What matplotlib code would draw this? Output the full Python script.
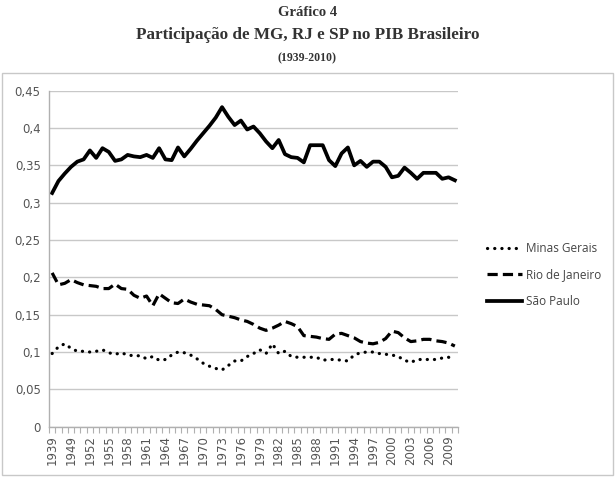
import matplotlib
matplotlib.use("Agg")
import matplotlib.pyplot as plt
from matplotlib.patches import Rectangle
from matplotlib.lines import Line2D

years = [1939, 1947, 1948] + list(range(1949, 2011))

minas_gerais = [0.098, 0.107, 0.111, 0.105, 0.101, 0.101, 0.100, 0.101, 0.103, 0.099,
                0.097, 0.099, 0.096, 0.095, 0.095, 0.091, 0.094, 0.089, 0.090, 0.096,
                0.100, 0.099, 0.096, 0.091, 0.085, 0.081, 0.078, 0.076, 0.082, 0.088,
                0.088, 0.094, 0.098, 0.103, 0.098, 0.111, 0.098, 0.101, 0.094, 0.093,
                0.093, 0.093, 0.093, 0.089, 0.090, 0.090, 0.089, 0.088, 0.096, 0.099,
                0.100, 0.100, 0.098, 0.097, 0.096, 0.094, 0.089, 0.086, 0.090, 0.090,
                0.090, 0.090, 0.092, 0.093, 0.089]

rio_de_janeiro = [0.206, 0.190, 0.192, 0.197, 0.193, 0.190, 0.189, 0.188, 0.185, 0.185,
                  0.191, 0.185, 0.184, 0.176, 0.172, 0.175, 0.162, 0.178, 0.172, 0.166,
                  0.165, 0.171, 0.167, 0.164, 0.163, 0.162, 0.157, 0.150, 0.148, 0.146,
                  0.143, 0.141, 0.137, 0.132, 0.129, 0.132, 0.136, 0.141, 0.138, 0.134,
                  0.122, 0.121, 0.120, 0.118, 0.117, 0.124, 0.125, 0.122, 0.119, 0.114,
                  0.112, 0.111, 0.113, 0.118, 0.128, 0.126, 0.119, 0.114, 0.115, 0.117,
                  0.117, 0.115, 0.114, 0.112, 0.108]

sao_paulo = [0.313, 0.329, 0.339, 0.348, 0.355, 0.358, 0.370, 0.360, 0.373, 0.368,
             0.356, 0.358, 0.364, 0.362, 0.361, 0.364, 0.360, 0.373, 0.358, 0.357,
             0.374, 0.362, 0.372, 0.383, 0.393, 0.403, 0.414, 0.428, 0.415, 0.404,
             0.410, 0.398, 0.402, 0.393, 0.382, 0.373, 0.384, 0.365, 0.361, 0.360,
             0.354, 0.377, 0.377, 0.377, 0.357, 0.349, 0.366, 0.374, 0.350, 0.356,
             0.348, 0.355, 0.355, 0.348, 0.334, 0.336, 0.347, 0.340, 0.332, 0.340,
             0.340, 0.340, 0.332, 0.334, 0.330]

series_names = ["Minas Gerais", "Rio de Janeiro", "São Paulo"]
y_ticks = [0, 0.05, 0.1, 0.15, 0.2, 0.25, 0.3, 0.35, 0.4, 0.45]
y_tick_labels = ["0", "0,05", "0,1", "0,15", "0,2", "0,25", "0,3", "0,35", "0,4", "0,45"]

W, H = 615, 483
fig = plt.figure(figsize=(W / 100, H / 100), dpi=100)
fig.patch.set_facecolor("white")

# outer chart border
fig.add_artist(Rectangle((2 / W, 1 - 475 / H), 611 / W, (475 - 73) / H,
                         transform=fig.transFigure, fill=False,
                         edgecolor="#c8c8c8", linewidth=1.0))

# titles
title_font = dict(family=["Liberation Serif", "DejaVu Serif"], weight="bold",
                  color="#333333", ha="center", va="center")
fig.text(0.5, 1 - 12 / H, "Gráfico 4", fontsize=10.5, **title_font)
fig.text(0.5, 1 - 35 / H, "Participação de MG, RJ e SP no PIB Brasileiro", fontsize=12.3, **title_font)
fig.text(0.5, 1 - 58 / H, "(1939-2010)", fontsize=8.5, **title_font)

left, right, top, bottom = 49, 458, 90.7, 426.7
ax = fig.add_axes([left / W, 1 - bottom / H, (right - left) / W, (bottom - top) / H])

x = list(range(len(years)))
lw = 2.3
ax.plot(x, minas_gerais, color="black", linewidth=lw, linestyle=(0, (0.05, 2.2)),
        dash_capstyle="round", solid_capstyle="round")
ax.plot(x, rio_de_janeiro, color="black", linewidth=lw, linestyle=(0, (3.2, 1.6)),
        dash_capstyle="butt")
ax.plot(x, sao_paulo, color="black", linewidth=lw + 0.4, solid_joinstyle="round")

ax.set_xlim(-0.5, len(years) - 0.5)
ax.set_ylim(0, 0.45)
ax.set_yticks(y_ticks)
ax.set_yticklabels(y_tick_labels)
ax.yaxis.grid(True, color="#c8c8c8", linewidth=1.0)
ax.set_axisbelow(True)

label_idx = list(range(0, len(years), 3))
ax.set_xticks(label_idx)
ax.set_xticklabels([str(years[i]) for i in label_idx], rotation=90)
ax.set_xticks([i - 0.5 for i in range(len(years) + 1)], minor=True)
ax.tick_params(axis="x", which="major", length=0, pad=6, labelsize=8.5, labelcolor="#555555")
ax.tick_params(axis="x", which="minor", length=4, color="#b0b0b0", width=0.8)
ax.tick_params(axis="y", length=0, pad=6, labelsize=8.5, labelcolor="#555555")

for s in ["top", "right"]:
    ax.spines[s].set_visible(False)
for s in ["left", "bottom"]:
    ax.spines[s].set_color("#b0b0b0")
    ax.spines[s].set_linewidth(1.0)

handles = [Line2D([0], [0], color="black", linewidth=lw, linestyle=(0, (0.05, 2.2)), dash_capstyle="round"),
           Line2D([0], [0], color="black", linewidth=lw, linestyle=(0, (3.2, 1.6))),
           Line2D([0], [0], color="black", linewidth=lw + 0.4)]
leg = fig.legend(handles, series_names, loc="center left",
                 bbox_to_anchor=(476 / W, 1 - 275 / H), frameon=False,
                 handlelength=3.0, handletextpad=0.3, labelspacing=1.15,
                 prop=dict(family=["Open Sans", "DejaVu Sans"], size=8.5))
for t in leg.get_texts():
    t.set_color("#444444")

fig.savefig("out.png", dpi=100)
